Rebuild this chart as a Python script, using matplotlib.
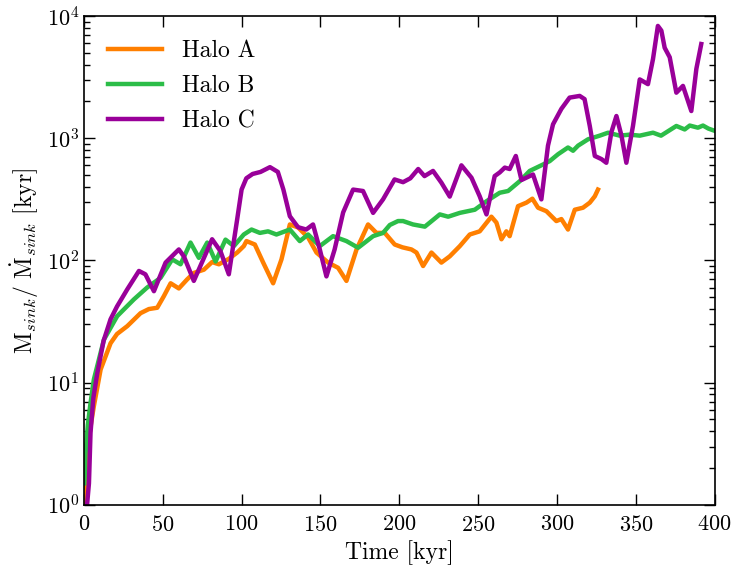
"""Sink accretion timescale M/Mdot versus time for three haloes."""
import matplotlib
matplotlib.use("Agg")
import matplotlib.pyplot as plt
import numpy as np

plt.rcParams["font.family"] = "serif"
plt.rcParams["font.serif"] = ["cmr10"]
plt.rcParams["mathtext.fontset"] = "cm"
plt.rcParams["axes.formatter.use_mathtext"] = True
plt.rcParams["axes.unicode_minus"] = False

# time [kyr] and M_sink / Mdot_sink [kyr]
time_a = [0.5, 2, 4, 6.3, 10.6, 16.9, 21, 27.5, 35.9, 41.2, 46.5, 50.7, 55, 60.2,
          65.5, 69.7, 76.1, 81.3, 85.6, 91.9, 97.2, 101.4, 103.1, 108.4, 113.7,
          120, 125.3, 130.6, 135.9, 142.2, 147.5, 154.9, 161.2, 166.5, 172.9,
          180.2, 185.5, 190.8, 197.1, 202, 207.7, 210.9, 215.1, 220.4, 226.7,
          232, 238.4, 244.7, 251, 258.4, 261.6, 264.8, 267.9, 270, 275.3, 280.6,
          284.4, 288, 293.3, 299.6, 302.8, 307, 311.3, 316.5, 320.8, 324, 326]
halo_a = [1.0, 2.2, 4.2, 6.4, 12.8, 21, 25, 29, 37, 40, 41, 51, 65, 59,
          70, 79, 84, 97, 93, 103, 116, 131, 144, 135, 96,
          65, 102, 197, 186, 154, 116, 96, 87, 68, 123,
          197, 168, 168, 135, 128, 123, 116, 90, 116, 96,
          108, 131, 163, 173, 228, 204, 149, 173, 158, 278, 297,
          320, 270, 253, 210, 218, 179, 260, 270, 297, 335, 380]

time_b = [0.3, 1, 2.5, 4, 6.3, 12.7, 21.1, 31.7, 40.1, 48.6, 56, 61.3, 67.6,
          72.9, 78.2, 83.5, 89.8, 95.1, 101.4, 106.3, 111.6, 116.8, 122.1,
          130.6, 136.9, 142.2, 149.6, 158, 166.5, 173.9, 183.4, 189.7, 194,
          199.2, 202.4, 208.7, 216.2, 225.7, 231, 238.4, 247.9, 255.3, 263.7,
          269, 276.4, 282.7, 291.2, 295.4, 300.7, 307, 310.2, 313.4, 319.7,
          327.1, 332.4, 339.8, 346.1, 352.5, 360.9, 366, 375.7, 381, 384.2,
          389.4, 392.6, 396, 400]
halo_b = [1.5, 2.6, 4.5, 6.5, 10.6, 22.5, 35, 48, 60, 72, 102, 93, 140,
          105, 140, 98, 148, 131, 163, 179, 168, 173, 163,
          179, 144, 163, 131, 158, 144, 127, 158, 168, 195,
          210, 210, 197, 189, 238, 228, 245, 260, 305, 358,
          370, 445, 540, 610, 650, 740, 840, 790, 870, 980,
          1050, 1110, 1050, 1070, 1050, 1110, 1050, 1260, 1180, 1270,
          1220, 1270, 1200, 1150]

time_c = [2, 3.2, 4.2, 6, 8.5, 12.5, 16.9, 21, 27.5, 34.9, 39, 44.4, 51.8,
          60.2, 63.4, 69.7, 81.3, 86.6, 91.9, 97.2, 100, 103, 107, 112, 118,
          123, 126.5, 130.6, 135.8, 141, 145.3, 149.6, 153.8, 159, 164.4,
          170.7, 177, 183.4, 189.7, 197, 202.4, 207, 212, 216, 221.4, 226.7,
          232, 239.4, 245.8, 251, 255.3, 260.5, 263.7, 266.9, 270, 273.9,
          277.5, 284.8, 290.1, 294.3, 297.5, 302.8, 308, 314.4, 317.5, 320.8,
          324, 328.2, 331.3, 334.5, 337.7, 340.9, 344, 348.2, 352.5, 357.7,
          360.9, 364, 366.2, 368.3, 371.5, 375.7, 379.9, 385.2, 388.4, 391.5]
halo_c = [1.0, 1.5, 3.9, 7.5, 12, 22, 33, 42, 58, 82, 77, 56, 96,
          123, 108, 68, 149, 119, 77, 217, 380, 470, 510, 530, 580,
          530, 380, 230, 187, 179, 197, 123, 74, 123, 247,
          380, 370, 245, 316, 460, 437, 470, 560, 490, 540, 433,
          333, 600, 475, 335, 238, 490, 525, 575, 560, 716,
          455, 505, 316, 870, 1300, 1740, 2150, 2220, 2090, 1260,
          716, 675, 630, 1120, 1520, 1050, 630, 1260, 3030, 2770,
          4450, 8300, 7600, 5500, 4600, 2360, 2680, 1670, 3700, 5900]

labels = ["Halo A", "Halo B", "Halo C"]
colors = ["#ff7f00", "#2cbd48", "#990099"]

fig = plt.figure(figsize=(7.36, 5.73), dpi=100)
ax = fig.add_axes([0.114, 0.119, 0.857, 0.853])

for t, v, lab, col in zip([time_a, time_b, time_c], [halo_a, halo_b, halo_c], labels, colors):
    ax.plot(t, v, color=col, lw=3.2, label=lab, solid_joinstyle="round")

ax.set_yscale("log")
ax.set_xlim(0, 400)
ax.set_ylim(1, 1e4)
ax.set_xticks(np.arange(0, 401, 50))

ax.tick_params(which="both", direction="in", top=True, right=True, labelsize=16)
ax.tick_params(which="major", length=8, width=1)
ax.tick_params(which="minor", length=4, width=1)
ax.tick_params(axis="x", pad=7)
for sp in ax.spines.values():
    sp.set_linewidth(1.2)

ax.set_xlabel("Time [kyr]", fontsize=17)
ax.set_ylabel(r"M$_{sink}$/ $\dot{\rm M}_{sink}$ [kyr]", fontsize=17)

ax.legend(loc="upper left", frameon=False, fontsize=17, handlelength=2.3,
          handletextpad=0.85, labelspacing=0.55, borderaxespad=0.6)

fig.savefig("out.png", dpi=100)
